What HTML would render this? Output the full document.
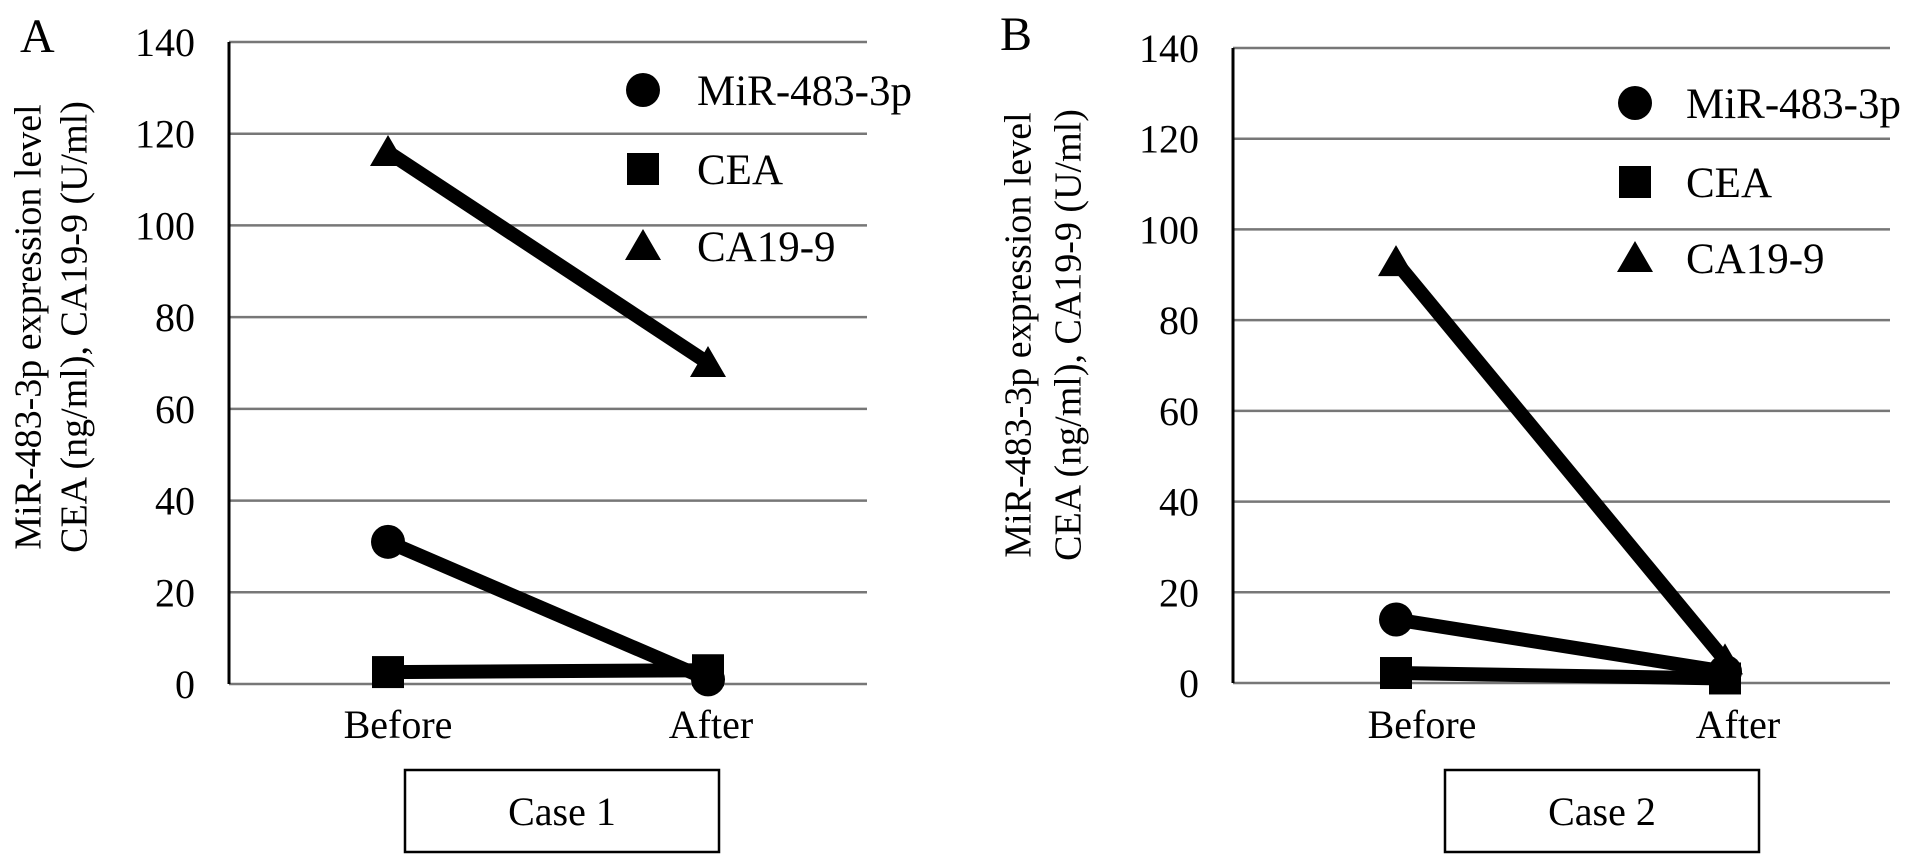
<!DOCTYPE html>
<html><head><meta charset="utf-8"><style>
body{margin:0;background:#fff;}
svg text{font-family:"Liberation Serif",serif;fill:#000;}
</style></head><body>
<svg id="chart" width="1913" height="860" xmlns="http://www.w3.org/2000/svg"></svg>
<script>
const categories = ["Before","After"];
const yTicks = [0,20,40,60,80,100,120,140];
const seriesNames = ["MiR-483-3p","CEA","CA19-9"];
const caseAMir = [31,1];
const caseACea = [2.6,3];
const caseACa = [116,70];
const caseBMir = [14,2.5];
const caseBCea = [2.2,1];
const caseBCa = [92.8,5];
const panels = [
  {label:"A", caseName:"Case 1", x0:229, x1:867, yTop:42, yBot:684, catX:[388,708], data:[caseAMir,caseACea,caseACa],
   letterX:20, letterY:52, titleX:[32,78], titleY:327, legX:643, legY:[90,169,246], legTextX:697, box:[405,770,314,82], catLabelX:[398,711]},
  {label:"B", caseName:"Case 2", x0:1233, x1:1890, yTop:48, yBot:683, catX:[1396,1725], data:[caseBMir,caseBCea,caseBCa],
   letterX:1000, letterY:50, titleX:[1022,1072], titleY:335, legX:1635, legY:[103,182,258], legTextX:1686, box:[1445,770,314,82], catLabelX:[1422,1738]}
];
const NS="http://www.w3.org/2000/svg";
const svg=document.getElementById('chart');
function mk(tag,attrs,parent){const e=document.createElementNS(NS,tag);for(const k in attrs)e.setAttribute(k,attrs[k]);(parent||svg).appendChild(e);return e;}
const yMax=140;
function marker(type,x,y,g){
  if(type===0) return mk('circle',{cx:x,cy:y,r:17,fill:'#000'},g);
  if(type===1) return mk('rect',{x:x-16,y:y-16,width:32,height:32,fill:'#000'},g);
  return mk('polygon',{points:`${x},${y-17} ${x-18},${y+14} ${x+18},${y+14}`,fill:'#000'},g);
}
panels.forEach(p=>{
  const yScale=v=>p.yBot-(v/yMax)*(p.yBot-p.yTop);
  const g=mk('g',{});
  
  
  const lt=mk('text',{x:p.letterX,y:p.letterY,'font-size':48},g);lt.textContent=p.label;
  
  
  yTicks.forEach(t=>{
    const y=yScale(t);
    const gl=mk('line',{x1:p.x0,x2:p.x1,y1:y,y2:y,stroke:'#777','stroke-width':2.5},g);
    
    
    const tl=mk('text',{x:p.x0-34,y:y+14,'font-size':40,'text-anchor':'end'},g);tl.textContent=t;
    
    
  });
  const ax=mk('line',{x1:p.x0,x2:p.x0,y1:p.yTop,y2:p.yBot,stroke:'#000','stroke-width':3},g);
  
  
  const cy=p.titleY;
  const t1=mk('text',{x:p.titleX[0],y:cy,'font-size':38,'text-anchor':'middle','dominant-baseline':'middle',transform:`rotate(-90 ${p.titleX[0]} ${cy})`},g);
  t1.textContent='MiR-483-3p expression level';
  
  
  const t2=mk('text',{x:p.titleX[1],y:cy,'font-size':38,'text-anchor':'middle','dominant-baseline':'middle',transform:`rotate(-90 ${p.titleX[1]} ${cy})`},g);
  t2.textContent='CEA (ng/ml), CA19-9 (U/ml)';
  
  
  categories.forEach((c,i)=>{
    const ct=mk('text',{x:p.catLabelX[i],y:738,'font-size':40,'text-anchor':'middle'},g);ct.textContent=c;
    
    
  });
  [2,0,1].forEach(si=>{
    const d=p.data[si];
    const ln=mk('line',{x1:p.catX[0],y1:yScale(d[0]),x2:p.catX[1],y2:yScale(d[1]),stroke:'#000','stroke-width':14},g);
    
    
    d.forEach((v,i)=>{
      const m=marker(si,p.catX[i],yScale(v),g);
      
      
    });
  });
  seriesNames.forEach((n,i)=>{
    const ly=p.legY[i];
    const m=marker(i,p.legX,ly,g);
    
    
    const tx=mk('text',{x:p.legTextX,y:ly+15,'font-size':43},g);tx.textContent=n;
    
    
  });
  const b=p.box;
  const box=mk('rect',{x:b[0],y:b[1],width:b[2],height:b[3],fill:'#fff',stroke:'#000','stroke-width':2.5},g);
  
  
  const bt=mk('text',{x:b[0]+b[2]/2,y:825,'font-size':40,'text-anchor':'middle'},g);bt.textContent=p.caseName;
  
  
});
</script>
</body></html>
